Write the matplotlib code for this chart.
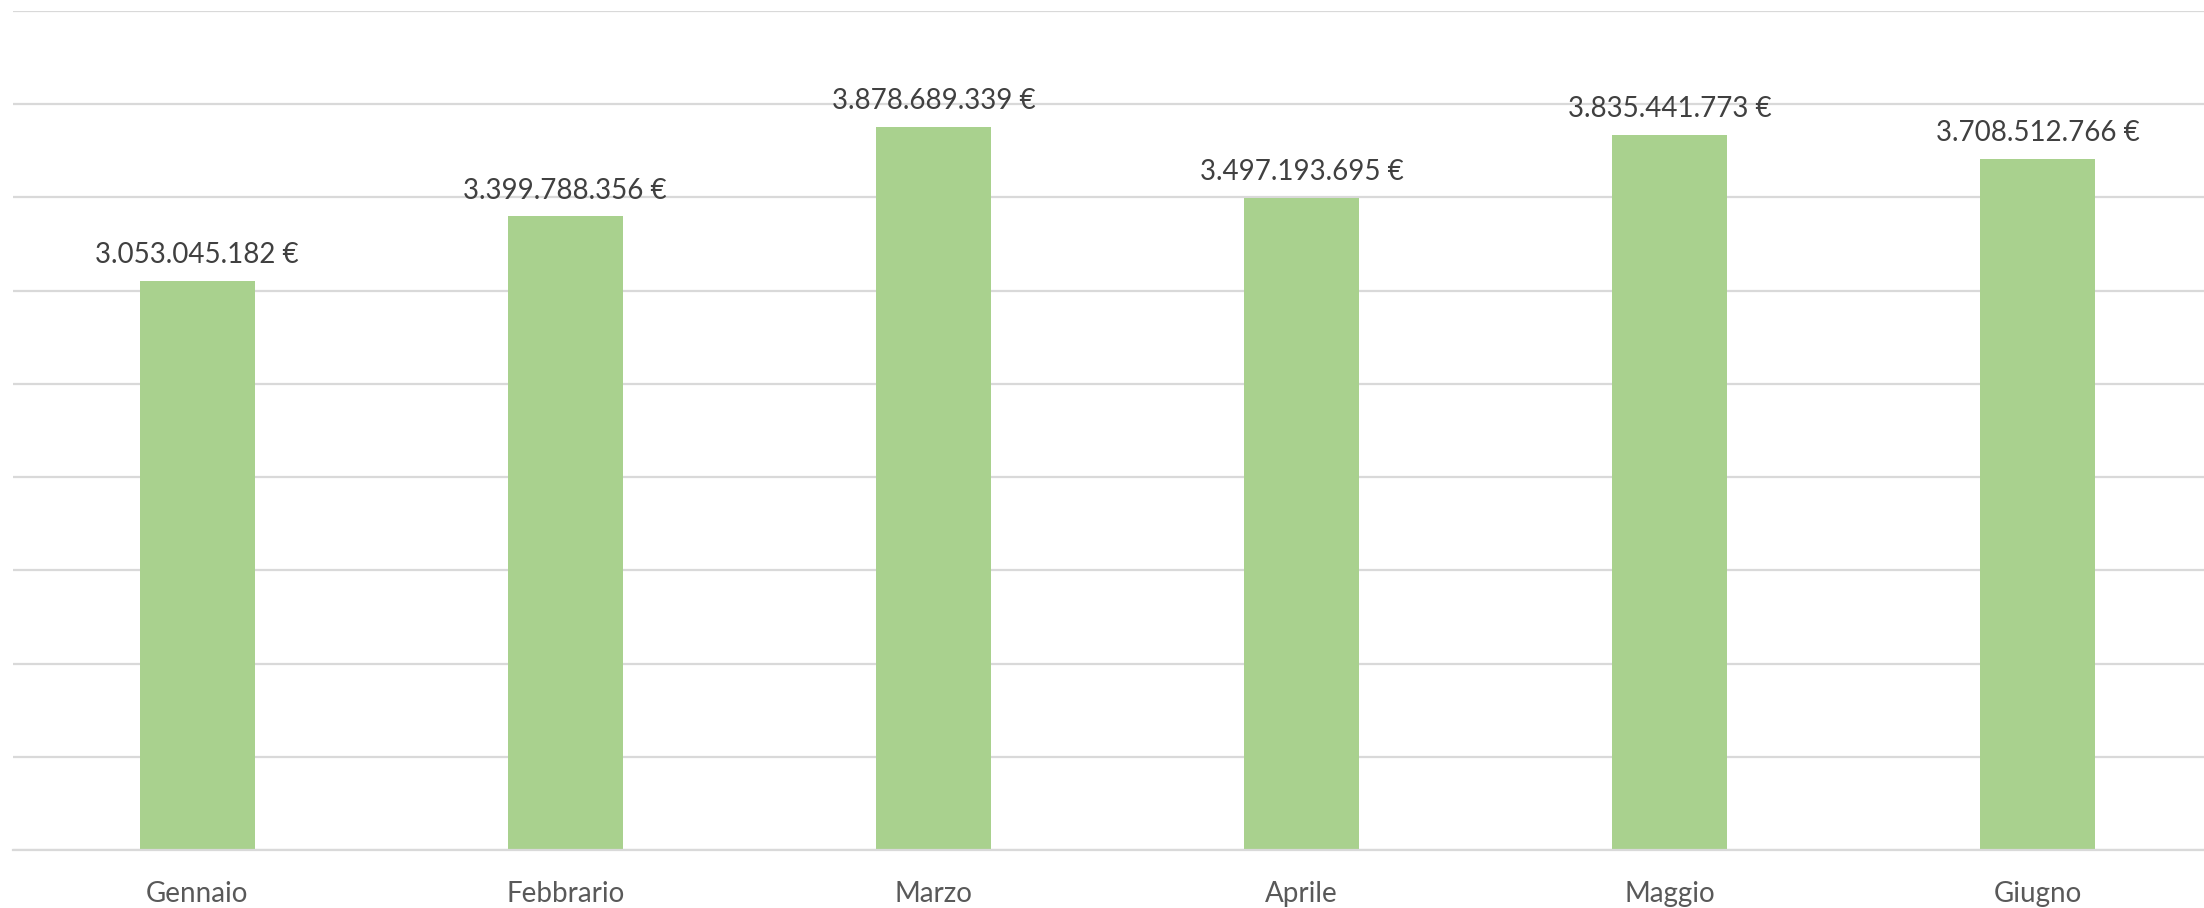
"""
Monthly totals, bar chart with value labels (Excel style)
"""
import matplotlib
matplotlib.use("Agg")
import matplotlib.pyplot as plt

months = ["Gennaio", "Febbrario", "Marzo", "Aprile", "Maggio", "Giugno"]
values = [3053045182, 3399788356, 3878689339, 3497193695, 3835441773, 3708512766]
labels = ["3.053.045.182 €", "3.399.788.356 €", "3.878.689.339 €",
          "3.497.193.695 €", "3.835.441.773 €", "3.708.512.766 €"]

plt.rcParams['font.family'] = ['Lato', 'DejaVu Sans']

fig = plt.figure(figsize=(22.04, 9.08), dpi=100)
# plot area runs slightly past the right edge, as in the source
ax = fig.add_axes([13 / 2204, 58 / 908, 2209 / 2204, 839 / 908])

x = list(range(len(months)))
ax.bar(x, values, width=0.3125, color="#A9D18E", zorder=2)

for xi, v, lab in zip(x, values, labels):
    ax.annotate(lab, (xi, v), xytext=(0, 9), textcoords="offset points",
                ha="center", va="bottom", fontsize=20, color="#404040")

ax.set_xlim(-0.5, len(months) - 0.5)
ax.set_ylim(0, 4.5e9)
ax.set_yticks([i * 5e8 for i in range(10)])
ax.set_yticklabels([])
ax.tick_params(axis="y", length=0)
ax.set_xticks(x)
ax.set_xticklabels(months, fontsize=20, color="#595959")
ax.tick_params(axis="x", length=0, pad=22)

ax.grid(axis="y", color="#D9D9D9", linewidth=1.6, zorder=0)
for s in ["top", "right", "left"]:
    ax.spines[s].set_visible(False)
ax.spines["bottom"].set_color("#D9D9D9")
ax.spines["bottom"].set_linewidth(1.6)

fig.savefig("out.png", dpi=100)
